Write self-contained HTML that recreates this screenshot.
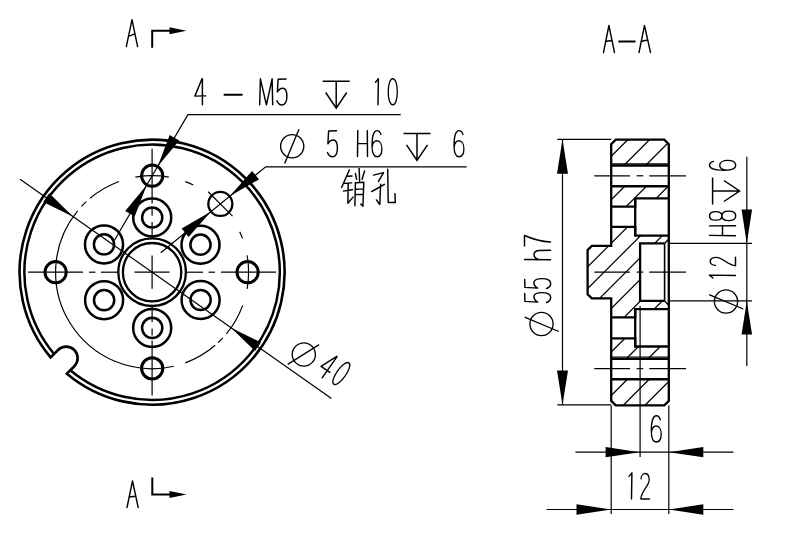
<!DOCTYPE html><html><head><meta charset="utf-8"><style>html,body{margin:0;padding:0;background:#fff;}svg{display:block;}</style></head><body><svg width="800" height="536" viewBox="0 0 800 536"><rect width="800" height="536" fill="#fff"/><g fill="none" stroke="#000"><path d="M50.63,357.41 A132.5,132.5 0 1 1 66.89,373.67 L74.32,366.25 A11.5,11.5 0 0 0 58.05,349.98 Z" stroke-width="2.6"/>
<path d="M54.04,354 A127.7,127.7 0 1 1 70.3,370.26" stroke-width="2.5"/>
<circle cx="152.1" cy="272.2" r="33.8" stroke-width="2.3"/>
<circle cx="152.1" cy="272.2" r="29.2" stroke-width="2.3"/>
<circle cx="104" cy="244.4" r="19" stroke-width="2.5"/>
<circle cx="104" cy="244.4" r="10.1" stroke-width="2.5"/>
<circle cx="200.5" cy="244.7" r="19" stroke-width="2.5"/>
<circle cx="200.5" cy="244.7" r="10.1" stroke-width="2.5"/>
<circle cx="104.1" cy="300.15" r="19" stroke-width="2.5"/>
<circle cx="104.1" cy="300.15" r="10.1" stroke-width="2.5"/>
<circle cx="200.6" cy="300" r="19" stroke-width="2.5"/>
<circle cx="200.6" cy="300" r="10.1" stroke-width="2.5"/>
<circle cx="152.2" cy="217.5" r="19" stroke-width="2.5"/>
<circle cx="152.2" cy="217.5" r="10.1" stroke-width="2.5"/>
<circle cx="152.2" cy="327.9" r="19" stroke-width="2.5"/>
<circle cx="152.2" cy="327.9" r="10.1" stroke-width="2.5"/>
<circle cx="152.2" cy="175.7" r="10.6" stroke-width="3.0"/>
<circle cx="152.2" cy="368.35" r="10.6" stroke-width="3.0"/>
<circle cx="55.6" cy="272.2" r="10.6" stroke-width="3.0"/>
<circle cx="247.6" cy="272.2" r="10.6" stroke-width="3.0"/>
<circle cx="220.34" cy="203.96" r="12" stroke-width="2.3"/>
<line x1="208.14" y1="191.76" x2="232.54" y2="216.16" stroke-width="1.2"/>
<line x1="28.2" y1="272.2" x2="83" y2="272.2" stroke-width="1.2"/>
<line x1="89" y1="272.2" x2="95.5" y2="272.2" stroke-width="1.2"/>
<line x1="101" y1="272.2" x2="118" y2="272.2" stroke-width="1.2"/>
<line x1="134.5" y1="272.2" x2="169.5" y2="272.2" stroke-width="1.2"/>
<line x1="186" y1="272.2" x2="203" y2="272.2" stroke-width="1.2"/>
<line x1="208.5" y1="272.2" x2="215" y2="272.2" stroke-width="1.2"/>
<line x1="221" y1="272.2" x2="276" y2="272.2" stroke-width="1.2"/>
<line x1="152.1" y1="148.7" x2="152.1" y2="203.5" stroke-width="1.2"/>
<line x1="152.1" y1="208.5" x2="152.1" y2="215.8" stroke-width="1.2"/>
<line x1="152.1" y1="222" x2="152.1" y2="238.5" stroke-width="1.2"/>
<line x1="152.1" y1="255.4" x2="152.1" y2="288.8" stroke-width="1.2"/>
<line x1="152.1" y1="306" x2="152.1" y2="322" stroke-width="1.2"/>
<line x1="152.1" y1="328.5" x2="152.1" y2="335.5" stroke-width="1.2"/>
<line x1="152.1" y1="340.5" x2="152.1" y2="395.5" stroke-width="1.2"/>
<path d="M90.07,198.28 A96.5,96.5 0 0 1 119.1,181.52" stroke-width="1.2"/>
<path d="M81.52,206.39 A96.5,96.5 0 0 1 86.29,201.62" stroke-width="1.2"/>
<path d="M173.81,366.23 A96.5,96.5 0 0 1 77.64,210.82" stroke-width="1.2"/>
<path d="M215.16,345.25 A96.5,96.5 0 0 1 185.26,362.82" stroke-width="1.2"/>
<path d="M222.79,337.89 A96.5,96.5 0 0 1 218.04,342.66" stroke-width="1.2"/>
<path d="M242.72,305.36 A96.5,96.5 0 0 1 226.35,333.84" stroke-width="1.2"/>
<path d="M247.13,255.44 A96.5,96.5 0 0 1 247.13,288.96" stroke-width="1.2"/>
<path d="M239.7,231.72 A96.5,96.5 0 0 1 242.49,238.4" stroke-width="1.2"/>
<path d="M185.26,181.58 A96.5,96.5 0 0 1 193.34,184.96" stroke-width="1.2"/>
<path d="M135.34,177.17 A96.5,96.5 0 0 1 168.86,177.17" stroke-width="1.2"/>
<line x1="20.05" y1="179.22" x2="331.49" y2="398.51" stroke-width="1.2"/>
<path d="M73.2,216.64 L43.19,201.94 L49.24,193.35 Z" fill="#000" stroke="none"/>
<path d="M231,327.76 L261.01,342.46 L254.96,351.05 Z" fill="#000" stroke="none"/>
<g transform="translate(303.8,354.5) rotate(35.15)" stroke-width="1.35"><circle cx="0" cy="0" r="11.6"/><path d="M6.8,-16.9 L-7.5,17.3"/></g>
<path transform="translate(316,373.5) rotate(35.15) scale(1,1)" d="M7.1,-26 L0,-8.7 L10.8,-8.9 M7.5,-26 L7.5,0" stroke-width="1.45" stroke-linecap="round" stroke-linejoin="round"/>
<path transform="translate(330,381.5) rotate(35.15) scale(0.9,1)" d="M5.2,-26 C-1.5,-26 -1.5,0 5.2,0 C11.9,0 11.9,-26 5.2,-26 Z" stroke-width="1.45" stroke-linecap="round" stroke-linejoin="round"/>
<path d="M400.7,114.7 L187.9,114.7 L114.32,240.43" stroke-width="1.2"/>
<path d="M157.66,166.38 L169.68,134.95 L179.17,140.5 Z" fill="#000" stroke="none"/>
<path d="M146.74,185.02 L134.72,216.45 L125.23,210.9 Z" fill="#000" stroke="none"/>
<path d="M466.7,166.8 L265.7,166.8 L160.77,252.76" stroke-width="1.2"/>
<path d="M229.62,196.36 L252.05,170.88 L259.02,179.38 Z" fill="#000" stroke="none"/>
<path d="M211.05,211.57 L188.62,237.05 L181.65,228.54 Z" fill="#000" stroke="none"/>
<path transform="translate(194.9,104.8) rotate(0) scale(1,1)" d="M7.1,-26 L0,-8.7 L10.8,-8.9 M7.5,-26 L7.5,0" stroke-width="1.45" stroke-linecap="round" stroke-linejoin="round"/>
<path transform="translate(224.5,104.8) rotate(0) scale(1,1)" d="M0,-10 L17.3,-10" stroke-width="2.0" stroke-linecap="round" stroke-linejoin="round"/>
<path transform="translate(259.7,104.8) rotate(0) scale(1,1)" d="M0.7,-26 L0,0 M0.7,-26 L6.7,0 L12.4,-26 L13,0" stroke-width="1.45" stroke-linecap="round" stroke-linejoin="round"/>
<path transform="translate(277,104.8) rotate(0) scale(1,1)" d="M9,-25.8 L1.1,-25.6 L0.4,-12.8 C2,-15.5 4,-16.6 5.8,-16.6 C9.2,-16.6 9.9,-12 9.9,-8.3 C9.9,-3 8,0.2 5,0.2 C2.6,0.2 0.9,-1.6 0,-4" stroke-width="1.45" stroke-linecap="round" stroke-linejoin="round"/>
<g transform="translate(322.7,81.2) rotate(0)" stroke-width="1.5"><path d="M0,0 L27,0 M13.5,0 L13.5,27 M3,11.3 L13.5,27 L24,11.3"/></g>
<path transform="translate(375,104.8) rotate(0) scale(1,1)" d="M0.5,-22.5 L3.4,-26 L3,0" stroke-width="1.45" stroke-linecap="round" stroke-linejoin="round"/>
<path transform="translate(388.1,104.8) rotate(0) scale(0.9,1)" d="M5.2,-26 C-1.5,-26 -1.5,0 5.2,0 C11.9,0 11.9,-26 5.2,-26 Z" stroke-width="1.45" stroke-linecap="round" stroke-linejoin="round"/>
<g transform="translate(292.2,146.2) rotate(0)" stroke-width="1.35"><circle cx="0" cy="0" r="11.6"/><path d="M6.8,-16.9 L-7.5,17.3"/></g>
<path transform="translate(327.5,156.6) rotate(0) scale(1,1)" d="M9,-25.8 L1.1,-25.6 L0.4,-12.8 C2,-15.5 4,-16.6 5.8,-16.6 C9.2,-16.6 9.9,-12 9.9,-8.3 C9.9,-3 8,0.2 5,0.2 C2.6,0.2 0.9,-1.6 0,-4" stroke-width="1.45" stroke-linecap="round" stroke-linejoin="round"/>
<path transform="translate(357.5,156.6) rotate(0) scale(1,1)" d="M0.3,-26 L0,0 M9.8,-26 L10,0 M0.2,-13 L9.9,-13" stroke-width="1.45" stroke-linecap="round" stroke-linejoin="round"/>
<path transform="translate(372,156.6) rotate(0) scale(0.9,1)" d="M10,-22 C9,-25 7.5,-26 5.6,-26 C1,-26 0,-17 0,-11 C0,-4 1.8,0.2 5.5,0.2 C9.3,0.2 11,-3.5 11,-7.8 C11,-12.5 8.8,-15.8 5.5,-15.8 C2.5,-15.8 0.6,-13 0.2,-9.5" stroke-width="1.45" stroke-linecap="round" stroke-linejoin="round"/>
<g transform="translate(403.5,133.5) rotate(0)" stroke-width="1.5"><path d="M0,0 L27,0 M13.5,0 L13.5,27 M3,11.3 L13.5,27 L24,11.3"/></g>
<path transform="translate(454,156.6) rotate(0) scale(0.9,1)" d="M10,-22 C9,-25 7.5,-26 5.6,-26 C1,-26 0,-17 0,-11 C0,-4 1.8,0.2 5.5,0.2 C9.3,0.2 11,-3.5 11,-7.8 C11,-12.5 8.8,-15.8 5.5,-15.8 C2.5,-15.8 0.6,-13 0.2,-9.5" stroke-width="1.45" stroke-linecap="round" stroke-linejoin="round"/>
<path d="M126.3,46.6 L132,19.6 L137.6,46.6 M128.6,36.4 L134.2,34.2" stroke-width="1.4" stroke-linecap="round" stroke-linejoin="round"/>
<path d="M152.2,47.7 L152.2,30.8 L170,30.8" stroke-width="2.0"/>
<path d="M186.5,30.8 L169.5,34.3 L169.5,27.3 Z" fill="#000" stroke="none"/>
<path d="M127,507.5 L132.5,481 L138.2,507.5 M129,497 L135.5,496.2" stroke-width="1.4" stroke-linecap="round" stroke-linejoin="round"/>
<path d="M152.3,477.5 L152.3,494.5 L170,494.5" stroke-width="2.0"/>
<path d="M186.5,494.5 L169.5,498 L169.5,491 Z" fill="#000" stroke="none"/>
<path d="M603.5,52.5 L608.9,25.5 L614.5,52.5 M605.5,41.5 L611.5,40.5" stroke-width="1.4" stroke-linecap="round" stroke-linejoin="round"/>
<line x1="618.3" y1="41.5" x2="635.5" y2="41.5" stroke-width="2.0"/>
<path d="M639,52.5 L644.5,25.5 L650.5,52.5 M641,41.5 L647.5,40" stroke-width="1.4" stroke-linecap="round" stroke-linejoin="round"/>
<mask id="mat" maskUnits="userSpaceOnUse" x="0" y="0" width="800" height="536"><path d="M615.7,139.7 L664.3,139.7 L668.8,144.2 L668.8,400.9 L664.3,405.4 L615.7,405.4 L611.2,400.9 L611.2,298.4 L591.8,298.4 L587.6,294.2 L587.6,250.1 L591.8,245.9 L611.2,245.9 L611.2,144.2 Z" fill="#fff" stroke="none"/><path d="M610.2,165.6 L669.8,165.6 L669.8,186.1 L610.2,186.1 Z M610.2,206.6 L635.2,206.6 L635.2,226.8 L610.2,226.8 Z M635.2,198.4 L669.8,198.4 L669.8,235.7 L635.2,235.7 Z M640.1,243.4 L664.6,243.4 L669.8,238.9 L669.8,305.3 L664.6,300.9 L640.1,300.9 Z M610.2,317.4 L635.2,317.4 L635.2,338.3 L610.2,338.3 Z M635.2,309.2 L669.8,309.2 L669.8,346.5 L635.2,346.5 Z M610.2,358.7 L669.8,358.7 L669.8,379.1 L610.2,379.1 Z" fill="#000" stroke="none"/></mask>
<path mask="url(#mat)" d="M560,-10 L700,-150 M560,11.75 L700,-128.25 M560,33.5 L700,-106.5 M560,55.25 L700,-84.75 M560,77 L700,-63 M560,98.75 L700,-41.25 M560,120.5 L700,-19.5 M560,142.25 L700,2.25 M560,164 L700,24 M560,185.75 L700,45.75 M560,207.5 L700,67.5 M560,229.25 L700,89.25 M560,251 L700,111 M560,272.75 L700,132.75 M560,294.5 L700,154.5 M560,316.25 L700,176.25 M560,338 L700,198 M560,359.75 L700,219.75 M560,381.5 L700,241.5 M560,403.25 L700,263.25 M560,425 L700,285 M560,446.75 L700,306.75 M560,468.5 L700,328.5 M560,490.25 L700,350.25 M560,512 L700,372 M560,533.75 L700,393.75" stroke-width="1.2"/>
<path d="M615.7,139.7 L664.3,139.7 L668.8,144.2 L668.8,400.9 L664.3,405.4 L615.7,405.4 L611.2,400.9 L611.2,298.4 L591.8,298.4 L587.6,294.2 L587.6,250.1 L591.8,245.9 L611.2,245.9 L611.2,144.2 Z" stroke-width="2.3" stroke-linejoin="miter"/>
<line x1="611.2" y1="165.6" x2="668.8" y2="165.6" stroke-width="2.5"/>
<line x1="611.2" y1="186.2" x2="668.8" y2="186.2" stroke-width="2.5"/>
<line x1="611.2" y1="358.7" x2="668.8" y2="358.7" stroke-width="2.5"/>
<line x1="611.2" y1="379.2" x2="668.8" y2="379.2" stroke-width="2.5"/>
<line x1="611.2" y1="163.9" x2="668.8" y2="163.9" stroke-width="1.2"/>
<line x1="611.2" y1="357" x2="668.8" y2="357" stroke-width="1.2"/>
<path d="M611.2,206.6 L635.2,206.6 L635.2,198.4 L668.8,198.4" stroke-width="2.3"/>
<path d="M611.2,226.8 L635.2,226.8 L635.2,235.7 L668.8,235.7" stroke-width="2.3"/>
<line x1="635.2" y1="198.4" x2="635.2" y2="235.7" stroke-width="2.3"/>
<path d="M611.2,317.4 L635.2,317.4 L635.2,309.2 L668.8,309.2" stroke-width="2.3"/>
<path d="M611.2,338.3 L635.2,338.3 L635.2,346.5 L668.8,346.5" stroke-width="2.3"/>
<line x1="635.2" y1="309.2" x2="635.2" y2="346.5" stroke-width="2.3"/>
<path d="M664.6,243.4 L640.1,243.4 L640.1,300.9 L664.6,300.9" stroke-width="2.3"/>
<line x1="664.6" y1="243.4" x2="664.6" y2="300.9" stroke-width="1.6"/>
<line x1="664.6" y1="243.4" x2="668.8" y2="238.9" stroke-width="1.4"/>
<line x1="664.6" y1="300.9" x2="668.8" y2="305.3" stroke-width="1.4"/>
<line x1="594.3" y1="175.8" x2="630" y2="175.8" stroke-width="1.2"/>
<line x1="636.6" y1="175.8" x2="643.3" y2="175.8" stroke-width="1.2"/>
<line x1="649.3" y1="175.8" x2="686" y2="175.8" stroke-width="1.2"/>
<line x1="594.3" y1="272.1" x2="630" y2="272.1" stroke-width="1.2"/>
<line x1="636.6" y1="272.1" x2="643.3" y2="272.1" stroke-width="1.2"/>
<line x1="649.3" y1="272.1" x2="686" y2="272.1" stroke-width="1.2"/>
<line x1="594.3" y1="368.7" x2="630" y2="368.7" stroke-width="1.2"/>
<line x1="636.6" y1="368.7" x2="643.3" y2="368.7" stroke-width="1.2"/>
<line x1="649.3" y1="368.7" x2="686" y2="368.7" stroke-width="1.2"/>
<line x1="557.3" y1="139.3" x2="611.2" y2="139.3" stroke-width="1.2"/>
<line x1="557.3" y1="404.8" x2="611.2" y2="404.8" stroke-width="1.2"/>
<line x1="562.5" y1="139.3" x2="562.5" y2="404.8" stroke-width="1.2"/>
<path d="M562.5,139.3 L568,173.8 L557,173.8 Z" fill="#000" stroke="none"/>
<path d="M562.5,404.8 L557,370.6 L568,370.6 Z" fill="#000" stroke="none"/>
<g transform="translate(541.5,324) rotate(-90)" stroke-width="1.35"><circle cx="0" cy="0" r="11.6"/><path d="M6.8,-16.9 L-7.5,17.3"/></g>
<path transform="translate(550.5,302.5) rotate(-90) scale(1,1)" d="M9,-25.8 L1.1,-25.6 L0.4,-12.8 C2,-15.5 4,-16.6 5.8,-16.6 C9.2,-16.6 9.9,-12 9.9,-8.3 C9.9,-3 8,0.2 5,0.2 C2.6,0.2 0.9,-1.6 0,-4" stroke-width="1.45" stroke-linecap="round" stroke-linejoin="round"/>
<path transform="translate(550.5,288.5) rotate(-90) scale(1,1)" d="M9,-25.8 L1.1,-25.6 L0.4,-12.8 C2,-15.5 4,-16.6 5.8,-16.6 C9.2,-16.6 9.9,-12 9.9,-8.3 C9.9,-3 8,0.2 5,0.2 C2.6,0.2 0.9,-1.6 0,-4" stroke-width="1.45" stroke-linecap="round" stroke-linejoin="round"/>
<path transform="translate(550.5,259.8) rotate(-90) scale(1,1)" d="M0.3,-26 L0,0 M0.2,-12 C1.5,-15.5 3.2,-16.5 5,-16.5 C8,-16.5 9.3,-14.5 9.3,-11 L9.5,0" stroke-width="1.45" stroke-linecap="round" stroke-linejoin="round"/>
<path transform="translate(550.5,246) rotate(-90) scale(1,1)" d="M0,-26 L10.5,-26 C6.5,-17 4.5,-9 4,0" stroke-width="1.45" stroke-linecap="round" stroke-linejoin="round"/>
<line x1="668.8" y1="243.4" x2="752" y2="243.4" stroke-width="1.2"/>
<line x1="668.8" y1="300.9" x2="752" y2="300.9" stroke-width="1.2"/>
<line x1="746.8" y1="156.8" x2="746.8" y2="365.9" stroke-width="1.2"/>
<path d="M746.8,243.4 L741.55,209.4 L752.05,209.4 Z" fill="#000" stroke="none"/>
<path d="M746.8,300.9 L752.05,334.5 L741.55,334.5 Z" fill="#000" stroke="none"/>
<g transform="translate(726,301.5) rotate(-90)" stroke-width="1.35"><circle cx="0" cy="0" r="11.6"/><path d="M6.8,-16.9 L-7.5,17.3"/></g>
<path transform="translate(735.5,278.5) rotate(-90) scale(1,1)" d="M0.5,-22.5 L3.4,-26 L3,0" stroke-width="1.45" stroke-linecap="round" stroke-linejoin="round"/>
<path transform="translate(735.5,266) rotate(-90) scale(0.85,1)" d="M0.6,-20 C0.8,-27 10.2,-27.5 10.2,-19 C10.2,-13 1,-8 0.3,0 L10.5,0" stroke-width="1.45" stroke-linecap="round" stroke-linejoin="round"/>
<path transform="translate(735.5,235.7) rotate(-90) scale(1,1)" d="M0.3,-26 L0,0 M9.8,-26 L10,0 M0.2,-13 L9.9,-13" stroke-width="1.45" stroke-linecap="round" stroke-linejoin="round"/>
<path transform="translate(735.5,220.7) rotate(-90) scale(0.87,1)" d="M5.5,-13.6 C1.2,-13.6 0.6,-17 0.6,-19.7 C0.6,-23.5 2.4,-26 5.5,-26 C8.6,-26 10.4,-23.5 10.4,-19.7 C10.4,-17 9.8,-13.6 5.5,-13.6 C1.6,-13.6 0,-10.6 0,-6.8 C0,-2.6 2.1,0.2 5.5,0.2 C8.9,0.2 11,-2.6 11,-6.8 C11,-10.6 9.4,-13.6 5.5,-13.6 Z" stroke-width="1.45" stroke-linecap="round" stroke-linejoin="round"/>
<g transform="translate(712.6,204.5) rotate(-90)" stroke-width="1.5"><path d="M0,0 L27,0 M13.5,0 L13.5,27 M3,11.3 L13.5,27 L24,11.3"/></g>
<path transform="translate(735.5,170.3) rotate(-90) scale(0.9,1)" d="M10,-22 C9,-25 7.5,-26 5.6,-26 C1,-26 0,-17 0,-11 C0,-4 1.8,0.2 5.5,0.2 C9.3,0.2 11,-3.5 11,-7.8 C11,-12.5 8.8,-15.8 5.5,-15.8 C2.5,-15.8 0.6,-13 0.2,-9.5" stroke-width="1.45" stroke-linecap="round" stroke-linejoin="round"/>
<line x1="611.2" y1="405.4" x2="611.2" y2="514" stroke-width="1.2"/>
<line x1="640.1" y1="306" x2="640.1" y2="457" stroke-width="1.2"/>
<line x1="668.8" y1="405.4" x2="668.8" y2="514" stroke-width="1.2"/>
<line x1="575.4" y1="452.2" x2="733.5" y2="452.2" stroke-width="1.2"/>
<path d="M639.6,452.2 L605.6,457.35 L605.6,447.05 Z" fill="#000" stroke="none"/>
<path d="M668.8,452.2 L703.3,447.05 L703.3,457.35 Z" fill="#000" stroke="none"/>
<line x1="546.5" y1="509.5" x2="733.5" y2="509.5" stroke-width="1.2"/>
<path d="M611.2,509.5 L576.5,514.65 L576.5,504.35 Z" fill="#000" stroke="none"/>
<path d="M668.8,509.5 L703.3,504.35 L703.3,514.65 Z" fill="#000" stroke="none"/>
<path transform="translate(651.3,441.8) rotate(0) scale(0.9,1)" d="M10,-22 C9,-25 7.5,-26 5.6,-26 C1,-26 0,-17 0,-11 C0,-4 1.8,0.2 5.5,0.2 C9.3,0.2 11,-3.5 11,-7.8 C11,-12.5 8.8,-15.8 5.5,-15.8 C2.5,-15.8 0.6,-13 0.2,-9.5" stroke-width="1.45" stroke-linecap="round" stroke-linejoin="round"/>
<path transform="translate(628.5,498.9) rotate(0) scale(1,1)" d="M0.5,-22.5 L3.4,-26 L3,0" stroke-width="1.45" stroke-linecap="round" stroke-linejoin="round"/>
<path transform="translate(640.5,498.9) rotate(0) scale(0.85,1)" d="M0.6,-20 C0.8,-27 10.2,-27.5 10.2,-19 C10.2,-13 1,-8 0.3,0 L10.5,0" stroke-width="1.45" stroke-linecap="round" stroke-linejoin="round"/>
<g stroke-width="1.45" stroke-linecap="round" stroke-linejoin="round"><path d="M349.4,169.8 L341.6,187.5 M347.4,176.3 L352,176 M344.6,183.4 L351.7,182.9 M343.4,191.1 L352.5,189.7 M348.2,183.2 L347.9,203.2 L353,197.1" /><path d="M355.4,173.4 L356.6,179.3 M359.1,168.4 L359.6,181 M364.6,170.9 L362.1,179.3 M354.9,205.8 L355.4,182.8 L363.8,182.2 L362.9,206.2 L360.8,204 M355.8,189.2 L362.9,188.9 M355.8,194.6 L362.9,194.2" /><path d="M373.5,175.1 L383.5,172.6 L378.5,181.4 M380.6,184.3 L379.8,204.5 L376.4,199.9 M371.8,191.5 L384.4,184.3 M387.7,169.2 L388.2,202.4 L395.3,202.4 L394.9,193.6" /></g></g></svg></body></html>
